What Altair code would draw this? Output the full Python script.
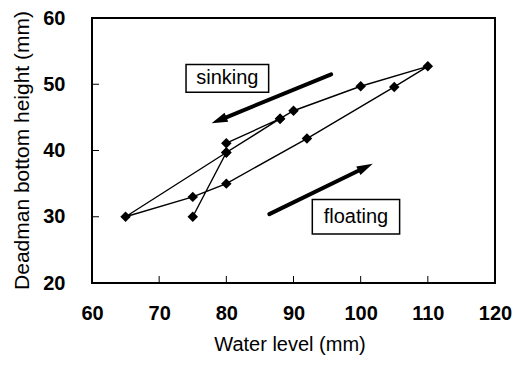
import math
import altair as alt
import pandas as pd

# Measured loop: water level vs. deadman bottom height, in order of measurement
water_level = [75, 80, 88, 90, 100, 110, 105, 92, 80, 75, 65, 80, 88, 80]
bottom_height = [30, 39.7, 44.8, 46, 49.7, 52.7, 49.6, 41.8, 35, 33, 30, 39.7, 44.8, 41.1]

x_ticks = [60, 70, 80, 90, 100, 110, 120]
y_ticks = [20, 30, 40, 50, 60]

x_title = "Water level (mm)"
y_title = "Deadman bottom height (mm)"

# Direction arrows (start -> tip, in data units)
arrow_names = ["sinking", "floating"]
arrow_x0 = [95.6, 86.4]
arrow_y0 = [51.5, 30.4]
arrow_x1 = [77.8, 101.8]
arrow_y1 = [44.1, 38.0]

# Labelled boxes
box_text = ["sinking", "floating"]
box_x1 = [74.0, 92.8]
box_x2 = [86.3, 105.8]
box_y1 = [48.8, 27.4]
box_y2 = [53.0, 32.6]

W, H = 403, 265
XDOM, YDOM = [60, 120], [20, 60]
px_x = W / (XDOM[1] - XDOM[0])
px_y = H / (YDOM[1] - YDOM[0])

FONT = "Liberation Sans"

df = pd.DataFrame({"order": range(len(water_level)), "w": water_level, "h": bottom_height})

# arrow geometry: shaft stops short of the tip, head rotated along the shaft
rows = []
for n, x0, y0, x1, y1 in zip(arrow_names, arrow_x0, arrow_y0, arrow_x1, arrow_y1):
    dx = (x1 - x0) * px_x
    dy = -(y1 - y0) * px_y
    L = math.hypot(dx, dy)
    ux, uy = dx / L, dy / L
    back = 12.0
    sx = x1 - ux * back / px_x
    sy = y1 + uy * back / px_y
    ang = math.degrees(math.atan2(ux, -uy)) % 360
    rows.append({"name": n, "x0": x0, "y0": y0, "sx": sx, "sy": sy, "x1": x1, "y1": y1, "ang": ang})
arrows = pd.DataFrame(rows)

boxes = pd.DataFrame({
    "t": box_text, "x1": box_x1, "x2": box_x2, "y1": box_y1, "y2": box_y2,
})
boxes["cx"] = (boxes.x1 + boxes.x2) / 2
boxes["cy"] = (boxes.y1 + boxes.y2) / 2

xs = alt.Scale(domain=XDOM, nice=False, zero=False)
ys = alt.Scale(domain=YDOM, nice=False, zero=False)

x_axis = alt.Axis(
    values=x_ticks, title=None, domain=False, ticks=False, grid=False,
    labelFontSize=20, labelFontWeight="bold", labelFont=FONT, labelColor="black",
    labelPadding=20, labelFlush=False, labelOverlap=False,
)
y_axis = alt.Axis(
    values=y_ticks, title=None, domain=False, ticks=False, grid=False,
    labelFontSize=20, labelFontWeight="bold", labelFont=FONT, labelColor="black",
    labelPadding=27, labelFlush=False, labelOverlap=False,
)

base = alt.Chart(df)
line = base.mark_line(color="black", strokeWidth=1.4).encode(
    x=alt.X("w:Q", scale=xs, axis=x_axis),
    y=alt.Y("h:Q", scale=ys, axis=y_axis),
    order="order:Q",
)
pts = base.mark_point(shape="diamond", filled=True, color="black", size=110, opacity=1).encode(
    x=alt.X("w:Q", scale=xs), y=alt.Y("h:Q", scale=ys)
)

xt = alt.Chart(pd.DataFrame({"v": x_ticks[1:-1]})).mark_rule(color="black", strokeWidth=1).encode(
    x=alt.X("v:Q", scale=xs), y=alt.value(H), y2=alt.value(H - 7)
)
yt = alt.Chart(pd.DataFrame({"v": y_ticks[1:-1]})).mark_rule(color="black", strokeWidth=1).encode(
    y=alt.Y("v:Q", scale=ys), x=alt.value(0), x2=alt.value(7)
)

shaft = alt.Chart(arrows).mark_rule(color="black", strokeWidth=4, strokeCap="round").encode(
    x=alt.X("x0:Q", scale=xs), y=alt.Y("y0:Q", scale=ys), x2="sx:Q", y2="sy:Q"
)
head = alt.Chart(arrows).mark_point(
    shape="M0,0L0.6,2L-0.6,2Z", filled=True, color="black", size=256, opacity=1
).encode(
    x=alt.X("x1:Q", scale=xs), y=alt.Y("y1:Q", scale=ys), angle=alt.Angle("ang:Q", scale=None)
)

rect = alt.Chart(boxes).mark_rect(fill="white", stroke="black", strokeWidth=1.5).encode(
    x=alt.X("x1:Q", scale=xs), x2="x2:Q", y=alt.Y("y1:Q", scale=ys), y2="y2:Q"
)
label = alt.Chart(boxes).mark_text(font=FONT, fontSize=20, color="black", baseline="middle").encode(
    x=alt.X("cx:Q", scale=xs), y=alt.Y("cy:Q", scale=ys), text="t:N"
)

# axis titles placed as free text (pixel offsets from the plot's top-left corner)
xtitle = alt.Chart(pd.DataFrame({"t": [x_title]})).mark_text(
    font=FONT, fontSize=20, color="black", baseline="alphabetic", align="center"
).encode(x=alt.value(198), y=alt.value(H + 68), text="t:N")
ytitle = alt.Chart(pd.DataFrame({"t": [y_title]})).mark_text(
    font=FONT, fontSize=21, color="black", baseline="middle", align="center", angle=270
).encode(x=alt.value(-69), y=alt.value(H / 2), text="t:N")

chart = alt.layer(line, pts, xt, yt, shaft, head, rect, label, xtitle, ytitle).properties(
    width=W, height=H,
    autosize=alt.AutoSizeParams(type="none"),
    padding={"left": 92, "top": 18, "right": 23, "bottom": 82},
    background="white",
).configure_view(stroke="black", strokeWidth=2)

chart.save("out.html", embed_options={"renderer": "svg", "actions": False})
